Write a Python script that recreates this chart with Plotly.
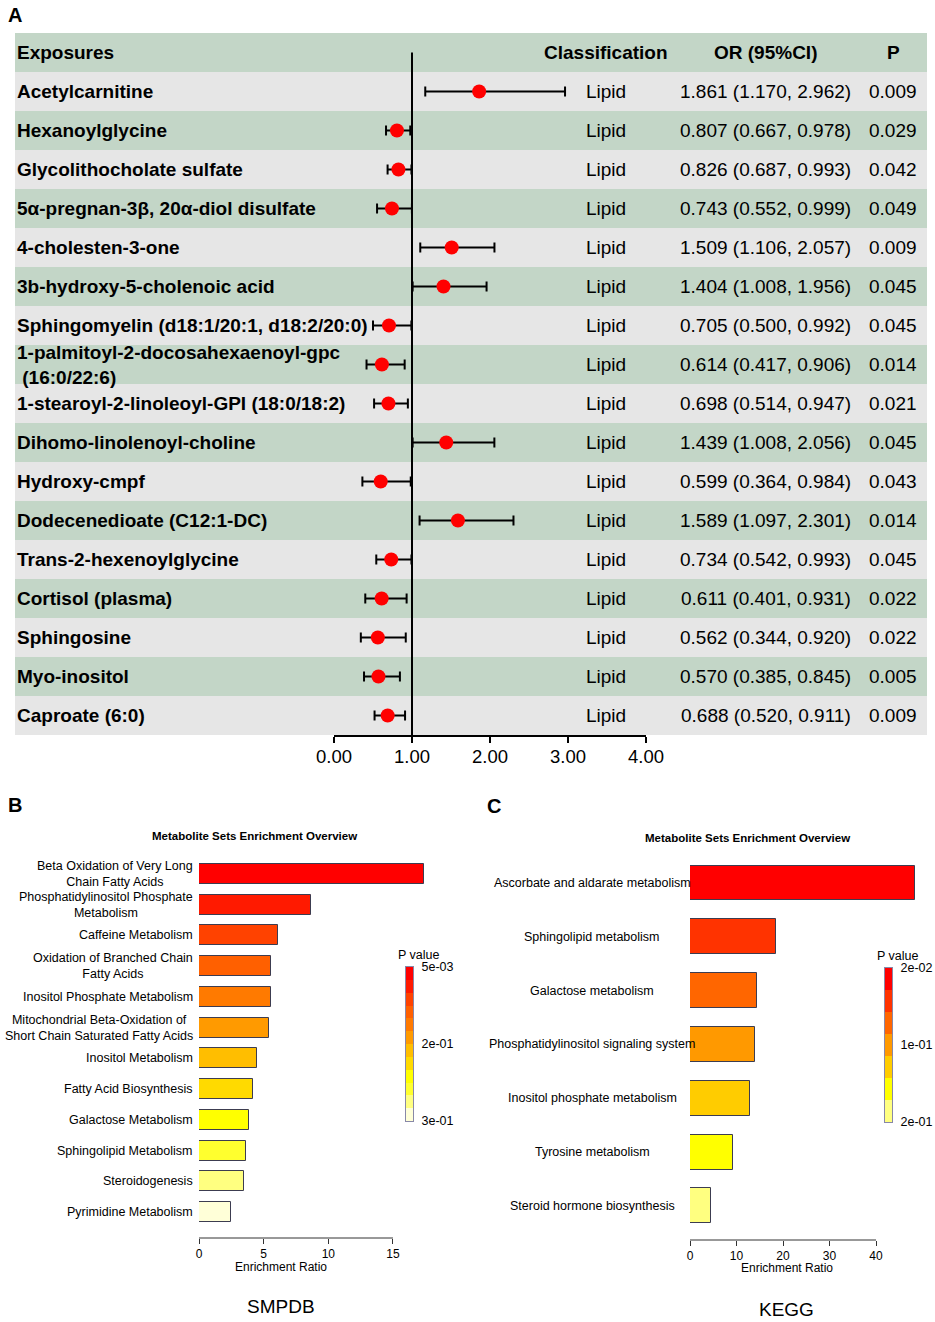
import plotly.graph_objects as go

W, H = 935, 1322
FONT = "Liberation Sans, Arial, sans-serif"

# ---------------- Panel A data ----------------
exposures = ["Acetylcarnitine", "Hexanoylglycine", "Glycolithocholate sulfate",
             "5α-pregnan-3β, 20α-diol disulfate", "4-cholesten-3-one",
             "3b-hydroxy-5-cholenoic acid", "Sphingomyelin (d18:1/20:1, d18:2/20:0)",
             "1-palmitoyl-2-docosahexaenoyl-gpc<br> (16:0/22:6)",
             "1-stearoyl-2-linoleoyl-GPI (18:0/18:2)", "Dihomo-linolenoyl-choline",
             "Hydroxy-cmpf", "Dodecenedioate (C12:1-DC)", "Trans-2-hexenoylglycine",
             "Cortisol (plasma)", "Sphingosine", "Myo-inositol", "Caproate (6:0)"]
classification = ["Lipid"] * 17
or_val = [1.861, 0.807, 0.826, 0.743, 1.509, 1.404, 0.705, 0.614, 0.698, 1.439,
          0.599, 1.589, 0.734, 0.611, 0.562, 0.570, 0.688]
ci_low = [1.170, 0.667, 0.687, 0.552, 1.106, 1.008, 0.500, 0.417, 0.514, 1.008,
          0.364, 1.097, 0.542, 0.401, 0.344, 0.385, 0.520]
ci_high = [2.962, 0.978, 0.993, 0.999, 2.057, 1.956, 0.992, 0.906, 0.947, 2.056,
           0.984, 2.301, 0.993, 0.931, 0.920, 0.845, 0.911]
p_vals = ["0.009", "0.029", "0.042", "0.049", "0.009", "0.045", "0.045", "0.014",
          "0.021", "0.045", "0.043", "0.014", "0.045", "0.022", "0.022", "0.005", "0.009"]
headers = ["Exposures", "Classification", "OR (95%CI)", "P"]
forest_ticks = [0, 1, 2, 3, 4]

# ---------------- Panel B data (SMPDB) ----------------
smpdb_sets = ["Beta Oxidation of Very Long<br>Chain Fatty Acids",
              "Phosphatidylinositol Phosphate<br>Metabolism",
              "Caffeine Metabolism",
              "Oxidation of Branched Chain<br>Fatty Acids",
              "Inositol Phosphate Metabolism",
              "Mitochondrial Beta-Oxidation of<br>Short Chain Saturated Fatty Acids",
              "Inositol Metabolism", "Fatty Acid Biosynthesis", "Galactose Metabolism",
              "Sphingolipid Metabolism", "Steroidogenesis", "Pyrimidine Metabolism"]
smpdb_ratio = [17.4, 8.66, 6.1, 5.6, 5.6, 5.45, 4.45, 4.2, 3.9, 3.65, 3.45, 2.5]
smpdb_colors = ["#FF0000", "#FF1A00", "#FF4200", "#FF6000", "#FF7A00", "#FF9A00",
                "#FFBE00", "#FFDA00", "#FFFF00", "#FFFF2E", "#FFFF80", "#FFFFD8"]
smpdb_ticks = [0, 5, 10, 15]
smpdb_pticks = ["3e-01", "2e-01", "5e-03"]

# ---------------- Panel C data (KEGG) ----------------
kegg_sets = ["Ascorbate and aldarate metabolism", "Sphingolipid metabolism",
             "Galactose metabolism", "Phosphatidylinositol signaling system",
             "Inositol phosphate metabolism", "Tyrosine metabolism",
             "Steroid hormone biosynthesis"]
kegg_ratio = [48.4, 18.4, 14.3, 13.9, 12.9, 9.2, 4.5]
kegg_colors = ["#FF0000", "#FF3300", "#FF6600", "#FF9900", "#FFCC00", "#FFFF00", "#FFFF80"]
kegg_ticks = [0, 10, 20, 30, 40]
kegg_pticks = ["2e-01", "1e-01", "2e-02"]


def px_x(p):
    return p / W


def px_y(p):
    return 1 - p / H


def discrete_scale(colors_bottom_to_top):
    n = len(colors_bottom_to_top)
    sc = []
    for i, c in enumerate(colors_bottom_to_top):
        sc.append([i / n, c])
        sc.append([(i + 1) / n, c])
    return sc


fig = go.Figure()
annotations = []
shapes = []

# ================= Panel A =================
n_rows = len(exposures) + 1  # header + rows
rows = list(range(1, n_rows))

for i in range(n_rows):
    shapes.append(dict(type="rect", xref="paper", yref="y", layer="below",
                       x0=px_x(15), x1=px_x(927), y0=i - 0.5, y1=i + 0.5,
                       fillcolor="#C3D6C7" if i % 2 == 0 else "#E6E6E6",
                       line=dict(width=0)))

fig.add_trace(go.Scatter(x=[1, 1], y=[0, n_rows - 0.5], mode="lines",
                         line=dict(color="black", width=2), xaxis="x", yaxis="y",
                         hoverinfo="skip", showlegend=False))
fig.add_trace(go.Scatter(
    x=or_val, y=rows, mode="markers", xaxis="x", yaxis="y",
    marker=dict(color="#FF0000", size=14, line=dict(width=0)),
    error_x=dict(type="data", symmetric=False,
                 array=[h - o for h, o in zip(ci_high, or_val)],
                 arrayminus=[o - l for o, l in zip(or_val, ci_low)],
                 color="black", thickness=2, width=5),
    showlegend=False))

col_x = {"name": 15, "cls": 606, "or": 765.5, "p": 893}
annotations.append(dict(text=f"<b>{headers[0]}</b>", x=px_x(col_x["name"]), xanchor="left",
                        y=0, yref="y", xref="paper", showarrow=False,
                        font=dict(size=19, family=FONT, color="black")))
for key, t in zip(["cls", "or", "p"], headers[1:]):
    annotations.append(dict(text=f"<b>{t}</b>", x=px_x(col_x[key]), xanchor="center",
                            y=0, yref="y", xref="paper", showarrow=False,
                            font=dict(size=19, family=FONT, color="black")))
for r, name, cls, o, lo, hi, p in zip(rows, exposures, classification, or_val, ci_low, ci_high, p_vals):
    annotations.append(dict(text=f"<b>{name}</b>", x=px_x(col_x["name"]), xanchor="left",
                            align="left", y=r, yref="y", xref="paper", showarrow=False,
                            font=dict(size=19, family=FONT, color="black")))
    annotations.append(dict(text=cls, x=px_x(col_x["cls"]), xanchor="center",
                            y=r, yref="y", xref="paper", showarrow=False,
                            font=dict(size=19, family=FONT, color="black")))
    annotations.append(dict(text=f"{o:.3f} ({lo:.3f}, {hi:.3f})", x=px_x(col_x["or"]),
                            xanchor="center", y=r, yref="y", xref="paper", showarrow=False,
                            font=dict(size=19, family=FONT, color="black")))
    annotations.append(dict(text=p, x=px_x(col_x["p"]), xanchor="center",
                            y=r, yref="y", xref="paper", showarrow=False,
                            font=dict(size=19, family=FONT, color="black")))

# ================= Panel B =================
nb = len(smpdb_sets)
yb = list(range(nb))
fig.add_trace(go.Bar(x=smpdb_ratio, y=yb, orientation="h", width=0.65,
                     marker=dict(color=smpdb_colors, line=dict(color="#3C3C50", width=1)),
                     xaxis="x2", yaxis="y2", showlegend=False))
for yi, lab in zip(yb, smpdb_sets):
    annotations.append(dict(text=lab, x=px_x(195), xanchor="right", align="center",
                            y=yi, yref="y2", xref="paper", showarrow=False,
                            font=dict(size=12.5, family=FONT, color="black")))
shapes.append(dict(type="line", xref="x2", yref="y2 domain", x0=smpdb_ticks[0],
                   x1=smpdb_ticks[-1], y0=0, y1=0, line=dict(color="#333333", width=1)))

smpdb_key = smpdb_colors[::-1]
fig.add_trace(go.Heatmap(z=[[i] for i in range(nb)], x=[0], y=list(range(nb)),
                         colorscale=discrete_scale(smpdb_key), zmin=-0.5, zmax=nb - 0.5,
                         showscale=False, xaxis="x4", yaxis="y4", hoverinfo="skip"))

# ================= Panel C =================
nk = len(kegg_sets)
yk = list(range(nk))
fig.add_trace(go.Bar(x=kegg_ratio, y=yk, orientation="h", width=0.65,
                     marker=dict(color=kegg_colors, line=dict(color="#3C3C50", width=1)),
                     xaxis="x3", yaxis="y3", showlegend=False))
for yi, lab in zip(yk, kegg_sets):
    annotations.append(dict(text=lab, x=px_x(592), xanchor="center", align="center",
                            y=yi, yref="y3", xref="paper", showarrow=False,
                            font=dict(size=12.5, family=FONT, color="black")))
shapes.append(dict(type="line", xref="x3", yref="y3 domain", x0=kegg_ticks[0],
                   x1=kegg_ticks[-1], y0=0, y1=0, line=dict(color="#333333", width=1)))

kegg_key = kegg_colors[::-1]
fig.add_trace(go.Heatmap(z=[[i] for i in range(nk)], x=[0], y=list(range(nk)),
                         colorscale=discrete_scale(kegg_key), zmin=-0.5, zmax=nk - 0.5,
                         showscale=False, xaxis="x5", yaxis="y5", hoverinfo="skip"))


# ---------- texts ----------
def txt(t, x, y, size, bold=False, xanchor="center"):
    annotations.append(dict(text=f"<b>{t}</b>" if bold else t, x=px_x(x), y=px_y(y),
                            xref="paper", yref="paper", xanchor=xanchor, yanchor="middle",
                            showarrow=False, font=dict(size=size, family=FONT, color="black")))


txt("A", 6, 15, 20, bold=True, xanchor="left")
txt("B", 6, 805, 20, bold=True, xanchor="left")
txt("C", 485, 806, 20, bold=True, xanchor="left")
txt("Metabolite Sets Enrichment Overview", 255, 836, 11.5, bold=True)
txt("Metabolite Sets Enrichment Overview", 747, 838, 11.5, bold=True)
txt("P value", 419, 955, 12.5)
txt("P value", 898, 956, 12.5)
txt("Enrichment Ratio", 281, 1267, 12)
txt("Enrichment Ratio", 787, 1268, 12)
txt("SMPDB", 281, 1306, 19)
txt("KEGG", 786, 1309, 19)

ax0 = dict(showgrid=False, zeroline=False, automargin=False)
key_x = dict(showgrid=False, zeroline=False, automargin=False, showticklabels=False,
             ticks="", showline=True, mirror=True, linecolor="#8888A8", linewidth=1,
             range=[-0.5, 0.5], fixedrange=True)


def key_y(anchor, n, labels):
    return dict(showgrid=False, zeroline=False, automargin=False, anchor=anchor, side="right",
                range=[-0.5, n - 0.5], tickvals=[-0.5, (n - 1) / 2, n - 0.5], ticktext=labels,
                ticks="outside", ticklen=5, tickcolor="rgba(0,0,0,0)",
                showline=True, mirror=True, linecolor="#8888A8", linewidth=1,
                tickfont=dict(size=12.5, family=FONT, color="black"))


fig.update_layout(
    width=W, height=H, margin=dict(l=0, r=0, t=0, b=0, autoexpand=False),
    paper_bgcolor="white", plot_bgcolor="rgba(0,0,0,0)",
    font=dict(family=FONT, color="black"),
    showlegend=False, bargap=0,
    xaxis=dict(domain=[px_x(334), px_x(646)], range=[0, 4], anchor="y",
               tickvals=forest_ticks, tickformat=".2f", ticks="outside", ticklen=6,
               tickwidth=2, tickcolor="black", showline=True, linewidth=2, linecolor="black",
               ticklabelstandoff=-2,
               tickfont=dict(size=18.5, family=FONT, color="black"), **ax0),
    yaxis=dict(domain=[px_y(735), px_y(33)], range=[n_rows - 0.5, -0.5], anchor="x",
               visible=False, **ax0),
    xaxis2=dict(domain=[px_x(199), px_x(436)], range=[0, (436 - 199) / 12.93], anchor="y2",
                tickvals=smpdb_ticks, ticks="outside", ticklen=5, tickwidth=1,
                tickcolor="#333333", showline=False,
                tickfont=dict(size=12, family=FONT, color="black"), **ax0),
    yaxis2=dict(domain=[px_y(1238), px_y(850)], range=[nb - 1 + 0.846, -0.78], anchor="x2",
                visible=False, **ax0),
    xaxis3=dict(domain=[px_x(690), px_x(921)], range=[0, (921 - 690) / 4.65], anchor="y3",
                tickvals=kegg_ticks, ticks="outside", ticklen=5, tickwidth=1,
                tickcolor="#333333", showline=False,
                tickfont=dict(size=12, family=FONT, color="black"), **ax0),
    yaxis3=dict(domain=[px_y(1240), px_y(850)], range=[nk - 1 + 0.632, -0.613], anchor="x3",
                visible=False, **ax0),
    xaxis4=dict(domain=[px_x(406), px_x(413)], anchor="y4", **key_x),
    yaxis4=dict(domain=[px_y(1121), px_y(967)], **key_y("x4", nb, smpdb_pticks)),
    xaxis5=dict(domain=[px_x(885), px_x(892)], anchor="y5", **key_x),
    yaxis5=dict(domain=[px_y(1122), px_y(968)], **key_y("x5", nk, kegg_pticks)),
    annotations=annotations, shapes=shapes,
)

# the page body's default 8px margin would shift the 935x1322 figure; remove it
fig.write_html("out.html", config={"displayModeBar": False},
               post_script="document.body.style.margin='0px';")
